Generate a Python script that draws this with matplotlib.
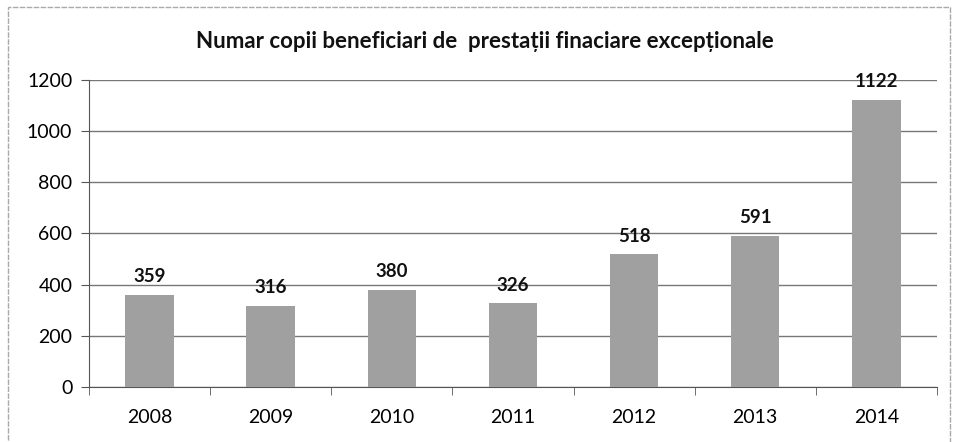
import matplotlib.pyplot as plt
from matplotlib.patches import Rectangle

years = ["2008", "2009", "2010", "2011", "2012", "2013", "2014"]
values = [359, 316, 380, 326, 518, 591, 1122]
yticks = [0, 200, 400, 600, 800, 1000, 1200]

plt.rcParams['font.family'] = ['Lato', 'DejaVu Sans']

fig = plt.figure(figsize=(9.57, 4.42), dpi=100)
ax = fig.add_axes([0.093, 0.125, 0.886, 0.694])

x = range(len(years))
ax.bar(x, values, width=0.4, color="#a0a0a0", zorder=3)
for i, v in zip(x, values):
    ax.annotate(str(v), (i, v), xytext=(0, 7), textcoords="offset points",
                ha="center", va="bottom", fontsize=13.5, fontweight="bold", color="#111111")

ax.set_xlim(-0.5, len(years) - 0.5)
ax.set_ylim(0, 1200)
ax.set_yticks(yticks)
ax.set_xticks(list(x))
ax.set_xticklabels(years)
ax.set_xticks([i + 0.5 for i in range(len(years) - 1)] + [-0.5, len(years) - 0.5], minor=True)
ax.tick_params(axis="x", which="major", length=0, labelsize=14, pad=16)
ax.tick_params(axis="x", which="minor", length=6, direction="out", color="#555555")
ax.tick_params(axis="y", length=6, direction="out", color="#555555", labelsize=14, pad=6)
ax.yaxis.grid(True, color="#777777", linewidth=1, zorder=0)

for s in ["top", "right"]:
    ax.spines[s].set_visible(False)
for s in ["left", "bottom"]:
    ax.spines[s].set_color("#555555")

fig.text(0.507, 0.905, "Numar copii beneficiari de  prestații finaciare excepționale",
         ha="center", va="center", fontsize=16, fontweight="bold", color="#111111")

fig.patches.append(Rectangle((0.008, -0.05), 0.985, 1.035, transform=fig.transFigure,
                             fill=False, edgecolor="#aaaaaa", linewidth=1, linestyle=(0, (4, 1))))

fig.savefig("out.png", dpi=100)
